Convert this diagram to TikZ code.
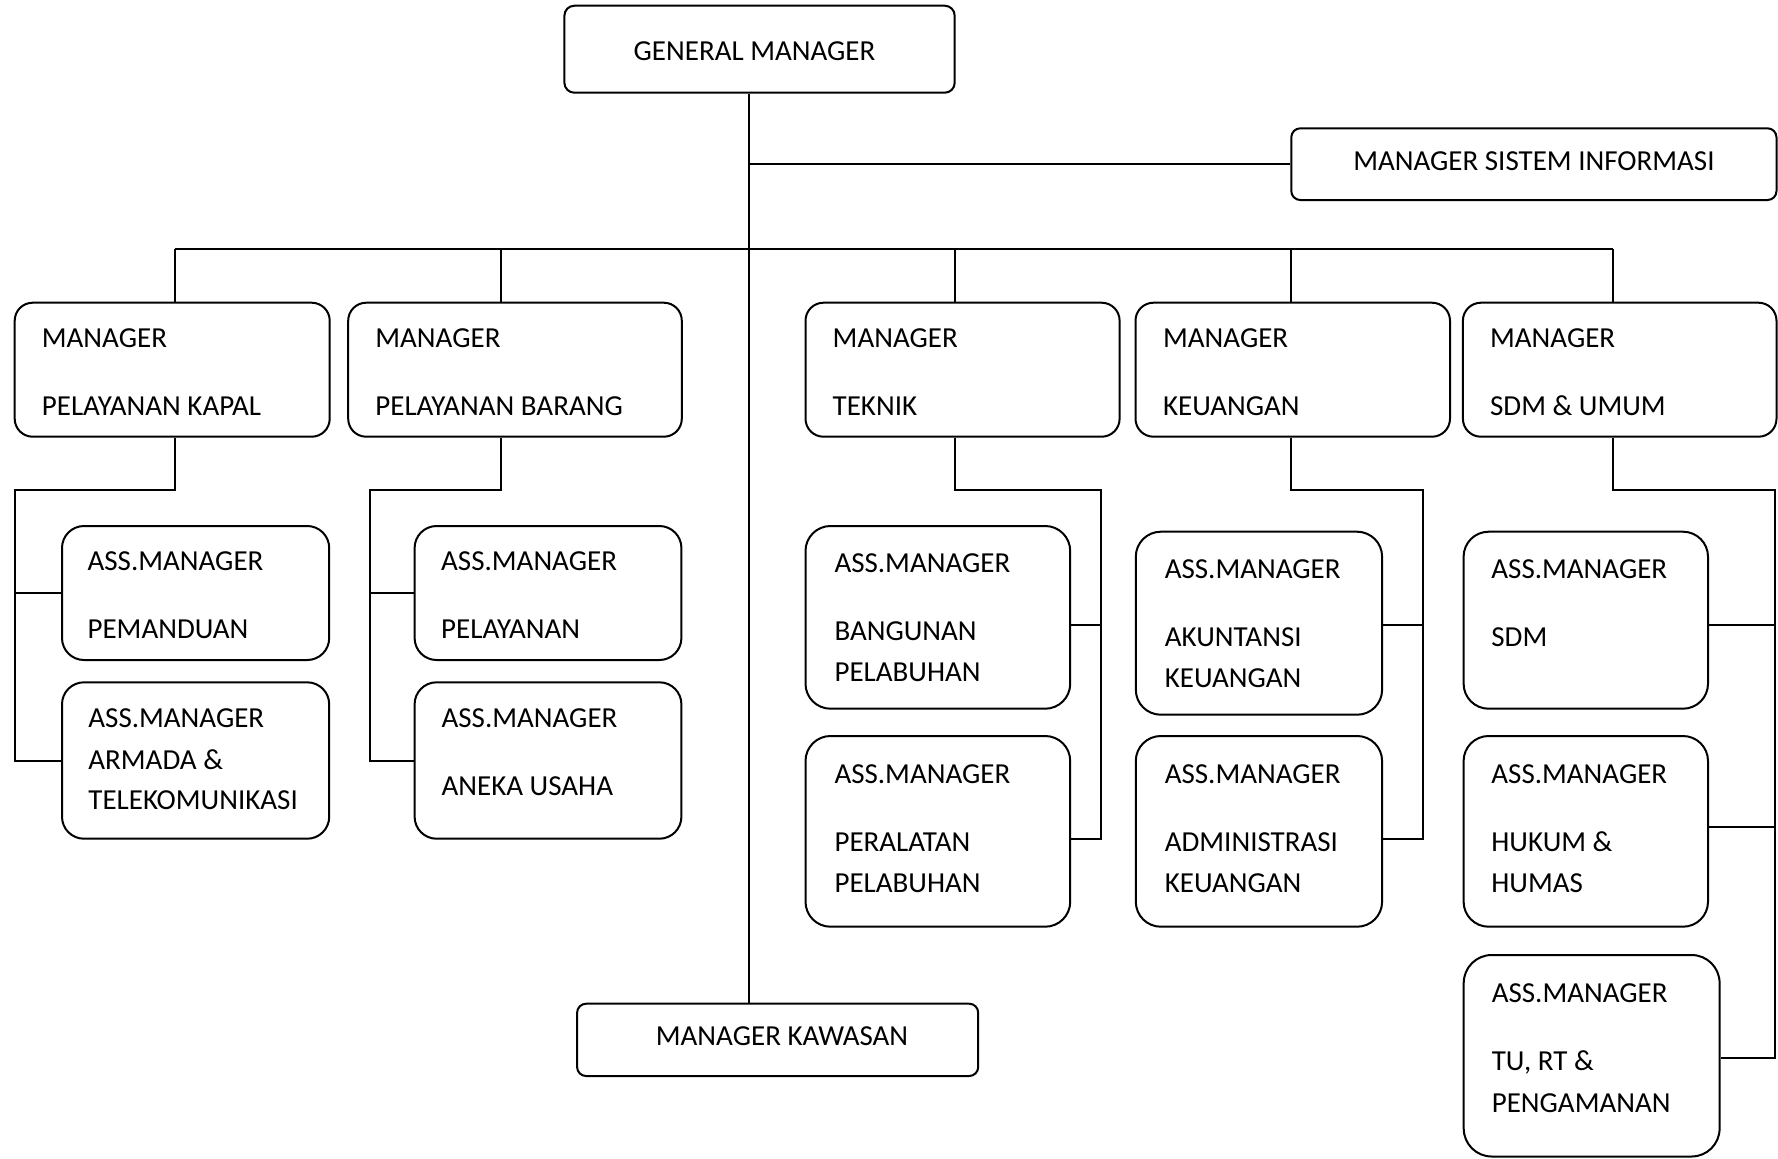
\documentclass[tikz,border=0pt]{standalone}
\usepackage{fontspec}
\setmainfont{Carlito}
\usetikzlibrary{fit}
\tikzset{
  orgbox/.style={draw, line width=1pt, inner sep=0pt},
  lbl/.style={anchor=base west, inner sep=0pt, font=\fontsize{14.5pt}{17pt}\selectfont},
  clbl/.style={lbl, anchor=base},
  conn/.style={line width=1pt},
}
\newcommand\mkorgbox[6]{%
  \coordinate (#1-a) at (#2,#3);
  \coordinate (#1-b) at (#4,#5);
  \node[orgbox, rounded corners=#6, fit=(#1-a)(#1-b)] (#1) {};}
\begin{document}
\begin{tikzpicture}[x=0.5pt,y=-0.5pt]
\useasboundingbox (0,0) rectangle (1778,1158);
% boxes
\mkorgbox{gm}{564.4}{5.7}{954.7}{92.7}{5pt}
\mkorgbox{msi}{1291.3}{128.3}{1776.5}{200}{4.5pt}
\mkorgbox{mk}{577.1}{1003.7}{978.2}{1076}{4.5pt}
\mkorgbox{kapal}{14.7}{302.7}{329.7}{436.7}{9pt}
\mkorgbox{barang}{348.2}{302.7}{681.8}{436.7}{9pt}
\mkorgbox{teknik}{805.5}{302.7}{1119.6}{436.7}{9pt}
\mkorgbox{keu}{1135.5}{302.7}{1450}{436.7}{9pt}
\mkorgbox{sdmu}{1462.9}{302.7}{1776.5}{436.7}{9pt}
\mkorgbox{pemanduan}{62}{526}{329.2}{660}{11pt}
\mkorgbox{armada}{62}{682.3}{329.2}{838.7}{11pt}
\mkorgbox{pelayanan}{414.6}{526}{681.4}{660}{11pt}
\mkorgbox{aneka}{414.6}{682.3}{681.4}{838.7}{11pt}
\mkorgbox{bangunan}{805.5}{526}{1070.2}{708.7}{12.5pt}
\mkorgbox{peralatan}{805.5}{736}{1070.2}{926.7}{12.5pt}
\mkorgbox{akuntansi}{1135.8}{531.7}{1382.1}{714.7}{12.5pt}
\mkorgbox{admin}{1135.8}{736}{1382.1}{926.7}{12.5pt}
\mkorgbox{sdm}{1463.6}{531.7}{1708}{708.7}{12.5pt}
\mkorgbox{hukum}{1463.6}{736}{1708}{926.7}{12.5pt}
\mkorgbox{tu}{1463.7}{955}{1719.6}{1156.5}{14pt}
% texts
\node[clbl] (gm-t) at (754.5,60.9) {GENERAL MANAGER};
\node[clbl] (msi-t) at (1533.9,170.9) {MANAGER SISTEM INFORMASI};
\node[clbl] (mk-t) at (782,1045.9) {MANAGER KAWASAN};
\node[lbl] (kapal-t1) at (41.5,347.5) {MANAGER};
\node[lbl] (kapal-t2) at (41.5,415.2) {PELAYANAN KAPAL};
\node[lbl] (barang-t1) at (375,347.5) {MANAGER};
\node[lbl] (barang-t2) at (375,415.2) {PELAYANAN BARANG};
\node[lbl] (teknik-t1) at (832.3,347.5) {MANAGER};
\node[lbl] (teknik-t2) at (832.3,415.2) {TEKNIK};
\node[lbl] (keu-t1) at (1162.7,347.5) {MANAGER};
\node[lbl] (keu-t2) at (1162.7,415.2) {KEUANGAN};
\node[lbl] (sdmu-t1) at (1489.7,347.5) {MANAGER};
\node[lbl] (sdmu-t2) at (1489.7,415.2) {SDM \& UMUM};
\node[lbl] (pemanduan-t1) at (87.2,570.2) {ASS.MANAGER};
\node[lbl] (pemanduan-t2) at (87.2,638.2) {PEMANDUAN};
\node[lbl] (armada-t1) at (88,727.9) {ASS.MANAGER};
\node[lbl] (armada-t2) at (88,769.2) {ARMADA \&};
\node[lbl] (armada-t3) at (88,809.9) {TELEKOMUNIKASI};
\node[lbl] (pelayanan-t1) at (440.8,570.2) {ASS.MANAGER};
\node[lbl] (pelayanan-t2) at (440.8,638.2) {PELAYANAN};
\node[lbl] (aneka-t1) at (441.2,727.9) {ASS.MANAGER};
\node[lbl] (aneka-t2) at (441.2,795.9) {ANEKA USAHA};
\node[lbl] (bangunan-t1) at (834.1,572.5) {ASS.MANAGER};
\node[lbl] (bangunan-t2) at (834.1,640.9) {BANGUNAN};
\node[lbl] (bangunan-t3) at (834.1,681.9) {PELABUHAN};
\node[lbl] (peralatan-t1) at (834.1,783.5) {ASS.MANAGER};
\node[lbl] (peralatan-t2) at (834.1,851.5) {PERALATAN};
\node[lbl] (peralatan-t3) at (834.1,892.5) {PELABUHAN};
\node[lbl] (akuntansi-t1) at (1164.4,578.5) {ASS.MANAGER};
\node[lbl] (akuntansi-t2) at (1164.4,646.5) {AKUNTANSI};
\node[lbl] (akuntansi-t3) at (1164.4,687.5) {KEUANGAN};
\node[lbl] (admin-t1) at (1164.4,783.5) {ASS.MANAGER};
\node[lbl] (admin-t2) at (1164.4,851.5) {ADMINISTRASI};
\node[lbl] (admin-t3) at (1164.4,892.5) {KEUANGAN};
\node[lbl] (sdm-t1) at (1491,578.5) {ASS.MANAGER};
\node[lbl] (sdm-t2) at (1491,646.5) {SDM};
\node[lbl] (hukum-t1) at (1491,783.5) {ASS.MANAGER};
\node[lbl] (hukum-t2) at (1491,851.5) {HUKUM \&};
\node[lbl] (hukum-t3) at (1491,892.5) {HUMAS};
\node[lbl] (tu-t1) at (1491.4,1002.5) {ASS.MANAGER};
\node[lbl] (tu-t2) at (1491.4,1070.9) {TU, RT \&};
\node[lbl] (tu-t3) at (1491.4,1112.5) {PENGAMANAN};
% helper coordinates
\coordinate (T) at (749.3,0);
\coordinate (bK) at (175.4,248.7);
\coordinate (bB) at (501.3,248.7);
\coordinate (bT) at (954.7,248.7);
\coordinate (bU) at (1291.3,248.7);
\coordinate (bS) at (1612.8,248.7);
\coordinate (kL) at (14.7,490.3);
\coordinate (bL) at (369.6,490.3);
\coordinate (tR) at (1101.4,490.3);
\coordinate (tb1) at (1101.4,625);
\coordinate (tb2) at (1101.4,838.7);
\coordinate (uR) at (1422.9,490.3);
\coordinate (ub1) at (1422.9,625);
\coordinate (ub2) at (1422.9,838.7);
\coordinate (sR) at (1774.5,490.3);
\coordinate (sb1) at (1774.5,625);
\coordinate (sb2) at (1774.5,827.3);
\coordinate (sb3) at (1774.5,1057.7);
% connectors
\draw[conn] (gm.south -| T) -- (mk.north -| T);
\draw[conn] (T |- msi.west) -- (msi.west);
\draw[conn] (bK) -- (bS);
\draw[conn] (bK) -- (bK |- kapal.north);
\draw[conn] (bB) -- (bB |- barang.north);
\draw[conn] (bT) -- (bT |- teknik.north);
\draw[conn] (bU) -- (bU |- keu.north);
\draw[conn] (bS) -- (bS |- sdmu.north);
% pelayanan kapal
\draw[conn] (kapal.south -| bK) |- (kL) |- (armada.west);
\draw[conn] (kL |- pemanduan.west) -- (pemanduan.west);
% pelayanan barang
\draw[conn] (barang.south -| bB) |- (bL) |- (aneka.west);
\draw[conn] (bL |- pelayanan.west) -- (pelayanan.west);
% teknik
\draw[conn] (teknik.south -| bT) |- (tR) -- (tb2) -- (tb2 -| peralatan.east);
\draw[conn] (tb1) -- (tb1 -| bangunan.east);
% keuangan
\draw[conn] (keu.south -| bU) |- (uR) -- (ub2) -- (ub2 -| admin.east);
\draw[conn] (ub1) -- (ub1 -| akuntansi.east);
% sdm & umum
\draw[conn] (sdmu.south -| bS) |- (sR) -- (sb3) -- (sb3 -| tu.east);
\draw[conn] (sb1) -- (sb1 -| sdm.east);
\draw[conn] (sb2) -- (sb2 -| hukum.east);
\end{tikzpicture}
\end{document}
